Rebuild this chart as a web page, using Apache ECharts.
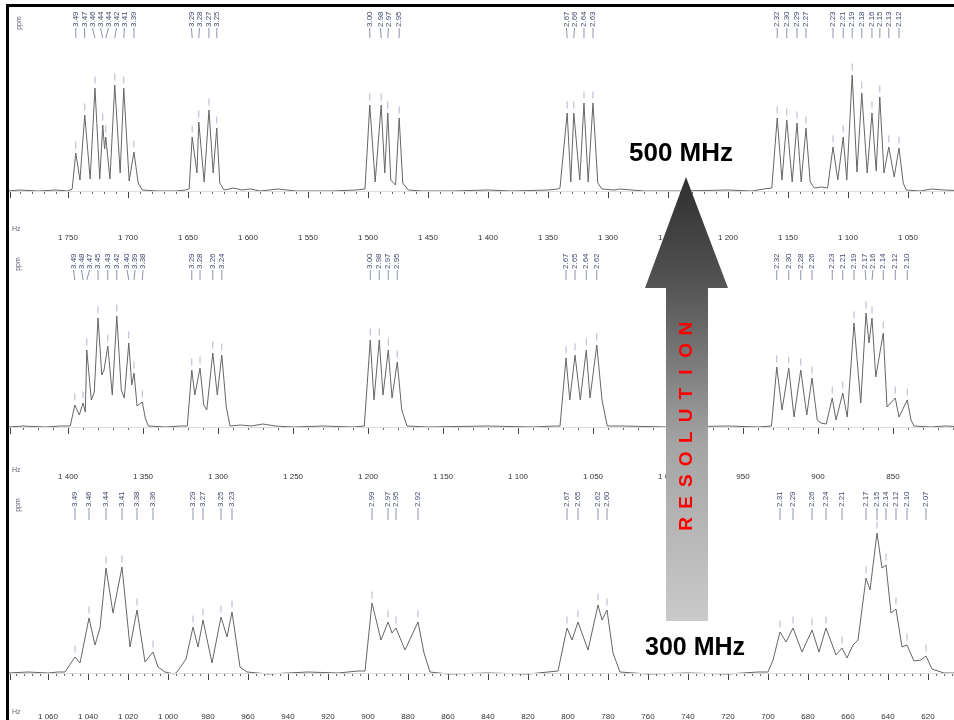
<!DOCTYPE html>
<html>
<head>
<meta charset="utf-8">
<script src="https://cdn.jsdelivr.net/npm/echarts@6/dist/echarts.min.js"></script>
<style>
  html, body { margin: 0; padding: 0; background: #fff; }
  #chart { width: 954px; height: 720px; }
</style>
</head>
<body>
<div id="chart"></div>
<script>
// spectrometer frequencies, top to bottom
const fields = [500, 400, 300];

// [Hz, intensity] (maxima and minima), left to right
const spec500 = [
  [1800, 0], [1790, 1], [1775, 0], [1760, 1], [1750, 0],
  [1746.5, 2], [1743.5, 38], [1740, 11], [1736, 76], [1731.5, 12], [1727.5, 103], [1723.5, 12],
  [1721, 66], [1719.5, 42], [1718.5, 54], [1715, 12], [1711, 106], [1706.5, 18], [1703.5, 103],
  [1699, 10], [1695, 39], [1691.5, 8], [1688, 1],
  [1675, 0], [1660, 0], [1652, 1],
  [1649, 2], [1646.5, 54], [1642.5, 18], [1641, 69], [1636.5, 9], [1632.5, 81], [1629, 18],
  [1626, 63], [1623.5, 8], [1620, 1],
  [1612, 3], [1605, 1], [1598, 2], [1590, 0], [1575, 2], [1560, 0], [1530, 0], [1510, 1],
  [1502.5, 2], [1498.5, 86], [1494, 9], [1489, 86], [1486, 18], [1483.5, 78], [1481, 11], [1477, 6],
  [1474, 73], [1471, 8], [1466.5, 1],
  [1455, 0], [1430, 0], [1400, 1], [1380, 0], [1350, 1], [1342, 2],
  [1340, 3], [1334, 78], [1331, 9], [1328.5, 78], [1323.5, 11], [1320, 88], [1316.5, 9],
  [1312.5, 88], [1308.5, 8], [1305, 2],
  [1295, 1], [1290, 2], [1270, 0], [1240, 0], [1200, 1], [1180, 0], [1170, 2],
  [1163.5, 3], [1159, 73], [1155, 11], [1151, 71], [1146.5, 9], [1142.5, 68], [1139, 9],
  [1135, 63], [1131.5, 9], [1128, 3], [1122, 4], [1117, 3],
  [1112.5, 44], [1108.5, 11], [1104, 54], [1101, 11], [1096.5, 116], [1092.5, 19], [1088.5, 98],
  [1084, 18], [1080, 78], [1076.5, 20], [1073.5, 94], [1070, 18], [1066, 44], [1061.5, 14],
  [1057.5, 43], [1054, 8], [1051.5, 1],
  [1040, 0], [1030, 2], [1020, 1], [1000, 0]
];

const spec400 = [
  [1440, 0], [1430, 1], [1415, 0], [1405, 1],
  [1398.5, 1], [1395.5, 22], [1392.5, 12], [1390, 24], [1388.5, 15], [1387.5, 77], [1384.5, 27],
  [1382.5, 35], [1380, 109], [1377.5, 52], [1376, 57], [1373.5, 81], [1370.5, 32], [1367.5, 111],
  [1364.5, 37], [1362.5, 29], [1359.5, 84], [1357.5, 42], [1356, 54], [1354, 21], [1350.5, 25],
  [1348.5, 9], [1346.5, 1],
  [1335, 0], [1325, 1],
  [1320.5, 1], [1317.5, 57], [1315.5, 32], [1312, 59], [1309.5, 22], [1307.5, 17], [1303.5, 74],
  [1300.5, 32], [1297.5, 72], [1294.5, 20], [1292, 1],
  [1285, 2], [1278, 1], [1270, 3], [1262, 1], [1250, 0], [1230, 1], [1210, 0],
  [1202.5, 1], [1198.5, 87], [1196, 27], [1192.5, 87], [1190, 32], [1186.5, 77], [1184, 29],
  [1180.5, 65], [1177.5, 17], [1174, 1],
  [1160, 0], [1120, 1], [1090, 0], [1075, 1],
  [1072, 1], [1068, 69], [1065.5, 27], [1062, 72], [1058.5, 27], [1054.5, 77], [1052, 29],
  [1047.5, 82], [1044, 27], [1040.5, 1],
  [1030, 1], [1000, 0], [960, 1], [940, 0],
  [931, 1], [927.5, 60], [924, 17], [919.5, 59], [916, 10], [911.5, 57], [907.5, 12], [904, 49],
  [900.5, 7], [898, 4], [894.5, 3],
  [890.5, 29], [888, 7], [883.5, 34], [880.5, 10], [876, 104], [871.5, 24], [868, 114], [866, 84],
  [864, 109], [861.5, 50], [856.5, 94], [854, 20], [848.5, 29], [846, 10], [840.5, 27], [838, 7],
  [836, 1],
  [825, 0], [815, 1], [800, 0]
];

const spec300 = [
  [1080, 0], [1070, 1], [1060, 0], [1055, 1],
  [1051.5, 1], [1046.5, 16], [1044, 10], [1039.5, 55], [1036.5, 28], [1034, 45], [1031, 105],
  [1027.5, 60], [1023, 106], [1019, 26], [1015.5, 63], [1011.5, 11], [1007.5, 21], [1005, 6],
  [1001.5, 1], [997, -1],
  [995.5, 1], [991, 14], [987.5, 46], [985, 26], [982.5, 53], [978, 10], [973.5, 56], [970.5, 36],
  [968, 61], [964, 6], [960.5, 1],
  [950, -1], [930, 1], [915, 0], [905, 2],
  [901.5, 2], [898, 70], [893.5, 33], [890, 51], [888, 40], [886, 45], [881.5, 23], [875, 51],
  [872, 20], [869, 1],
  [860, -1], [840, 0], [820, -1], [810, 1],
  [805, 2], [800.5, 45], [798, 33], [795, 51], [790, 23], [785, 68], [783, 53], [780.5, 63],
  [777.5, 20], [774, 1],
  [760, -1], [740, 0], [720, -1], [705, 1],
  [700, 1], [697.5, 13], [694, 41], [691, 31], [687.5, 45], [683, 21], [678, 43], [674.5, 21],
  [671, 45], [666, 18], [663, 25], [660.5, 15], [657.5, 28], [655, 33], [651, 95], [649, 83],
  [645.5, 140], [643, 105], [641, 108], [638.5, 60], [636, 64], [633, 26], [630.5, 28], [627, 12],
  [623.5, 13], [621, 17], [618, 4],
  [612, 0], [600, 0]
];

const spectra = [spec500, spec400, spec300];
// axis ranges (Hz) and label step
const hzMin = [1000, 800, 600];
const hzMax = [1798.3, 1438.7, 1079];
const hzStep = [50, 50, 20];

// layout for each panel (pixels)
const panels = [
  {top: 5, height: 219, yMin: -33, yMax: 186, pxHz: 1.2, tagTop: 163, tagBot: 153},
  {top: 245, height: 218, yMin: -36, yMax: 182, pxHz: 1.5, tagTop: 157, tagBot: 147},
  {top: 485, height: 218, yMin: -30, yMax: 188, pxHz: 2.0, tagTop: 165, tagBot: 153}
];

function pickPeaks(d) {
  const out = [];
  for (let i = 1; i < d.length - 1; i++) {
    if (d[i][1] > d[i - 1][1] && d[i][1] >= d[i + 1][1] && d[i][1] > 15) out.push(d[i]);
  }
  return out;
}

// push labels apart so they don't overlap (xs are descending Hz)
function spread(xs, gap) {
  const out = xs.slice();
  for (let it = 0; it < 60; it++) {
    for (let i = 1; i < out.length; i++) {
      const d = out[i - 1] - out[i];
      if (d < gap) {
        const p = (gap - d) / 2;
        out[i - 1] += p;
        out[i] -= p;
      }
    }
  }
  return out;
}

function fmtHz(v) {
  const s = String(Math.round(v));
  return s.length > 3 ? s.slice(0, -3) + ' ' + s.slice(-3) : s;
}

const grid = [], xAxis = [], yAxis = [], series = [];

panels.forEach((p, i) => {
  grid.push({left: 10, top: p.top, width: 958, height: p.height, containLabel: false, outerBoundsMode: 'none'});
  xAxis.push({
    gridIndex: i, type: 'value', inverse: true,
    min: hzMin[i], max: hzMax[i], interval: hzStep[i],
    axisLine: {lineStyle: {color: '#777', width: 1}},
    axisTick: {length: 7, lineStyle: {color: '#444'}},
    minorTick: {show: true, splitNumber: 5, length: 3, lineStyle: {color: '#666'}},
    axisLabel: {fontSize: 8, color: '#333', margin: 10, showMaxLabel: false, showMinLabel: false, formatter: fmtHz},
    splitLine: {show: false}
  });
  yAxis.push({gridIndex: i, type: 'value', min: p.yMin, max: p.yMax, show: false});

  const data = spectra[i];
  const peaks = pickPeaks(data);
  const tagX = spread(peaks.map((d) => d[0]), 8 / p.pxHz);
  const ppm = peaks.map((d) => (d[0] / fields[i]).toFixed(2));

  series.push({
    type: 'line', xAxisIndex: i, yAxisIndex: i, data: data,
    symbol: 'none', smooth: false, clip: true,
    lineStyle: {color: '#666', width: 1},
    markLine: {
      silent: true, symbol: 'none', label: {show: false},
      lineStyle: {color: '#dcdcdc', type: 'solid', width: 1},
      data: [{yAxis: 0}]
    }
  });
  series.push({
    type: 'scatter', xAxisIndex: i, yAxisIndex: i, data: peaks,
    symbol: 'rect', symbolSize: [1, 7], symbolOffset: [0, -8],
    itemStyle: {color: '#9aa3c4'}, silent: true
  });
  series.push({
    type: 'custom', xAxisIndex: i, yAxisIndex: i,
    data: peaks.map((d, k) => [tagX[k], d[0]]),
    silent: true,
    renderItem: (params, api) => {
      const a = api.coord([api.value(0), p.tagTop]);
      const b = api.coord([api.value(1), p.tagBot]);
      return {
        type: 'group',
        children: [
          {type: 'line', shape: {x1: a[0], y1: a[1], x2: b[0], y2: b[1]}, style: {stroke: '#8c93b0', lineWidth: 1}},
          {
            type: 'text', x: a[0], y: a[1] - 1, rotation: Math.PI / 2,
            style: {
              text: ppm[params.dataIndex], fill: '#404a70', fontSize: 8, fontFamily: 'Liberation Sans',
              align: 'left', verticalAlign: 'middle', textAlign: 'left', textVerticalAlign: 'middle'
            }
          }
        ]
      };
    }
  });
});

const graphic = [
  {type: 'rect', shape: {x: 6, y: 4, width: 3, height: 716}, style: {fill: '#000'}, z: 100},
  {type: 'rect', shape: {x: 6, y: 4, width: 948, height: 3}, style: {fill: '#000'}, z: 100}
];

// small "ppm" and "Hz" tags at the left of each panel
[[19, 23, 229], [18, 264, 470], [18, 505, 712]].forEach((t) => {
  graphic.push({
    type: 'text', x: t[0], y: t[1], rotation: Math.PI / 2,
    style: {text: 'ppm', fill: '#556', fontSize: 7, fontFamily: 'Liberation Sans', align: 'center', verticalAlign: 'middle', textAlign: 'center', textVerticalAlign: 'middle'}
  });
  graphic.push({
    type: 'text', x: 12, y: t[2],
    style: {text: 'Hz', fill: '#667', fontSize: 7, fontFamily: 'Liberation Sans', align: 'left', verticalAlign: 'middle', textAlign: 'left', textVerticalAlign: 'middle'}
  });
});

// resolution arrow
graphic.push({
  type: 'polygon', z: 110,
  shape: {points: [[686, 177], [728, 288], [708, 288], [708, 621], [666, 621], [666, 288], [645, 288]]},
  style: {
    fill: {
      type: 'linear', x: 0, y: 0, x2: 0, y2: 1,
      colorStops: [
        {offset: 0, color: '#2e2e2e'},
        {offset: 0.25, color: '#555555'},
        {offset: 0.6, color: '#a4a4a4'},
        {offset: 1, color: '#cacaca'}
      ]
    }
  }
});
'RESOLUTION'.split('').forEach((ch, k) => {
  graphic.push({
    type: 'text', z: 120, x: 687, y: 524 - k * 21.7, rotation: Math.PI / 2,
    style: {text: ch, fill: '#ff0000', font: 'bold 19px "Liberation Sans"', align: 'center', verticalAlign: 'middle', textAlign: 'center', textVerticalAlign: 'middle'}
  });
});
graphic.push({
  type: 'text', z: 120, x: 681, y: 154,
  style: {text: '500 MHz', fill: '#000', font: 'bold 26px "Liberation Sans"', align: 'center', verticalAlign: 'middle', textAlign: 'center', textVerticalAlign: 'middle'}
});
graphic.push({
  type: 'text', z: 120, x: 695, y: 648,
  style: {text: '300 MHz', fill: '#000', font: 'bold 25px "Liberation Sans"', align: 'center', verticalAlign: 'middle', textAlign: 'center', textVerticalAlign: 'middle'}
});

const chart = echarts.init(document.getElementById('chart'));
chart.setOption({
  animation: false,
  backgroundColor: '#fff',
  textStyle: {fontFamily: 'Liberation Sans'},
  grid: grid,
  xAxis: xAxis,
  yAxis: yAxis,
  series: series,
  graphic: graphic
});
</script>
</body>
</html>
